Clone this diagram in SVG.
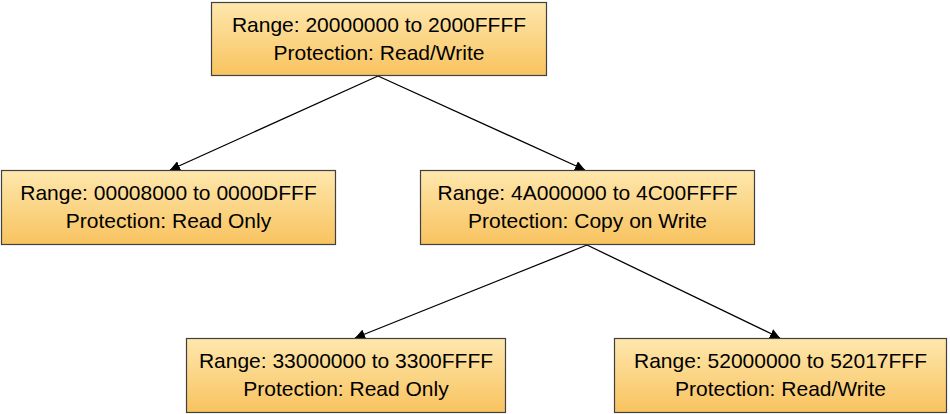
<svg xmlns="http://www.w3.org/2000/svg" width="950" height="414" viewBox="0 0 950 414">
<defs>
<linearGradient id="g" x1="0" y1="0" x2="0" y2="1">
<stop offset="0" stop-color="#fee7ad"/>
<stop offset="1" stop-color="#f8c35f"/>
</linearGradient>
<marker id="ah" viewBox="0 0 10 10" refX="10" refY="5" markerWidth="10" markerHeight="10" markerUnits="userSpaceOnUse" orient="auto">
<path d="M0,0 L10,5 L0,10 z" fill="#000"/>
</marker>
</defs>
<style>
.box{fill:url(#g);stroke:#404040;stroke-width:1.2}
.t{font-family:"Liberation Sans",Arial,sans-serif;font-size:21px;fill:#000;text-anchor:middle}
.c{stroke:#000;stroke-width:1.3;fill:none;marker-end:url(#ah)}
</style>
<g id="connectors">
<line class="c" x1="378" y1="76" x2="170" y2="170"/>
<line class="c" x1="378" y1="76" x2="585" y2="170"/>
<line class="c" x1="587" y1="245" x2="355" y2="338"/>
<line class="c" x1="587" y1="245" x2="780" y2="338"/>
</g>
<g id="n1">
<rect class="box" x="211.5" y="2.5" width="335" height="73"/>
<text class="t" x="379" y="32">Range: 20000000 to 2000FFFF</text>
<text class="t" x="379" y="60">Protection: Read/Write</text>
</g>
<g id="n2">
<rect class="box" x="1.5" y="170.5" width="334" height="74"/>
<text class="t" x="168.5" y="200">Range: 00008000 to 0000DFFF</text>
<text class="t" x="168.5" y="228">Protection: Read Only</text>
</g>
<g id="n3">
<rect class="box" x="420.5" y="170.5" width="334" height="74"/>
<text class="t" x="587.5" y="200">Range: 4A000000 to 4C00FFFF</text>
<text class="t" x="587.5" y="228">Protection: Copy on Write</text>
</g>
<g id="n4">
<rect class="box" x="186.5" y="338.5" width="319" height="74"/>
<text class="t" x="346" y="368">Range: 33000000 to 3300FFFF</text>
<text class="t" x="346" y="396">Protection: Read Only</text>
</g>
<g id="n5">
<rect class="box" x="614.5" y="338.5" width="332" height="74"/>
<text class="t" x="780.5" y="368">Range: 52000000 to 52017FFF</text>
<text class="t" x="780.5" y="396">Protection: Read/Write</text>
</g>
</svg>
